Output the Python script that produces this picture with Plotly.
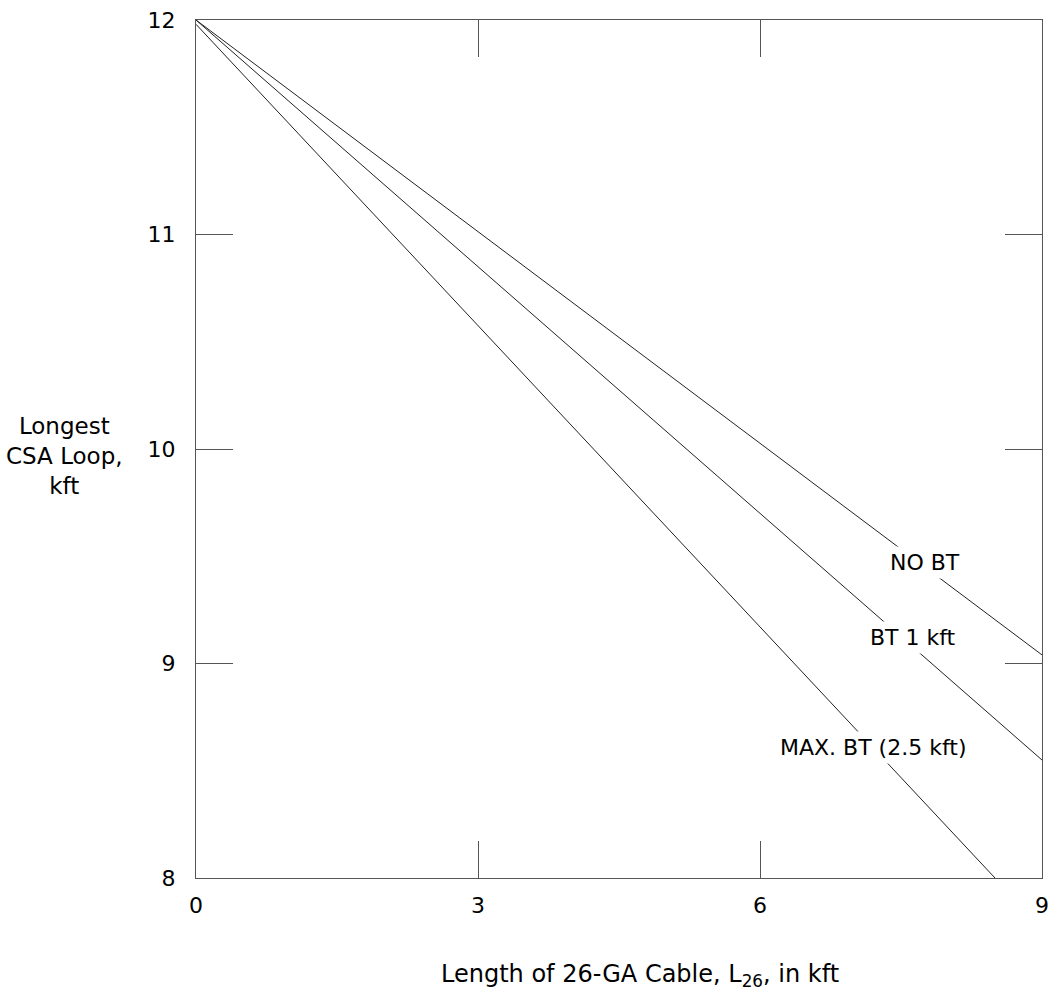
import plotly.graph_objects as go

# Data
x_no_bt = [0, 9]
y_no_bt = [12, 9.04]

x_bt1 = [0, 9]
y_bt1 = [12, 8.55]

x_max_bt = [0, 8.5]
y_max_bt = [11.98, 8]

x_ticks = [0, 3, 6, 9]
y_ticks = [8, 9, 10, 11, 12]

labels = ["NO BT", "BT 1 kft", "MAX. BT (2.5 kft)"]
label_x = [7.76, 7.63, 7.20]
label_y = [9.47, 9.12, 8.61]

FONT = "DejaVu Sans"

fig = go.Figure()
for xs, ys in [(x_no_bt, y_no_bt), (x_bt1, y_bt1), (x_max_bt, y_max_bt)]:
    fig.add_trace(go.Scatter(x=xs, y=ys, mode="lines",
                             line=dict(color="#222222", width=1),
                             showlegend=False, hoverinfo="skip"))

for t, lx, ly in zip(labels, label_x, label_y):
    fig.add_annotation(x=lx, y=ly, xref="x", yref="y", text=t, showarrow=False,
                       xanchor="center", yanchor="middle",
                       font=dict(family=FONT, size=22, color="black"),
                       bgcolor="white", borderpad=3)

fig.add_annotation(x=-0.155, y=0.492, xref="paper", yref="paper",
                   text="Longest<br>CSA Loop,<br>kft", showarrow=False,
                   xanchor="center", yanchor="middle",
                   align="center", font=dict(family=FONT, size=23, color="black"))
fig.add_annotation(x=0.525, y=-0.1136, xref="paper", yref="paper",
                   text="Length of 26-GA Cable, L<sub>26</sub>, in kft", showarrow=False,
                   xanchor="center", yanchor="middle",
                   font=dict(family=FONT, size=24, color="black"))

fig.update_xaxes(range=[0, 9], tickvals=x_ticks, ticktext=[str(v) for v in x_ticks],
                 ticks="inside", ticklen=37, tickcolor="#555555", tickwidth=1,
                 showline=True, linecolor="#555555", linewidth=1, mirror="ticks",
                 showgrid=False, zeroline=False, automargin=False,
                 tickfont=dict(family=FONT, size=22, color="black"),
                 ticklabelstandoff=8)
fig.update_yaxes(range=[8, 12], tickvals=y_ticks, ticktext=[str(v) for v in y_ticks],
                 ticks="inside", ticklen=37, tickcolor="#555555", tickwidth=1,
                 showline=True, linecolor="#555555", linewidth=1, mirror="ticks",
                 showgrid=False, zeroline=False, automargin=False,
                 tickfont=dict(family=FONT, size=22, color="black"),
                 ticklabelstandoff=15)

fig.update_layout(width=1055, height=997,
                  margin=dict(l=196, r=13, t=20, b=119, autoexpand=False),
                  plot_bgcolor="white", paper_bgcolor="white")

fig.write_html("out.html", config={"displayModeBar": False},
               post_script="document.body.style.margin='0';document.body.style.overflow='hidden';")
